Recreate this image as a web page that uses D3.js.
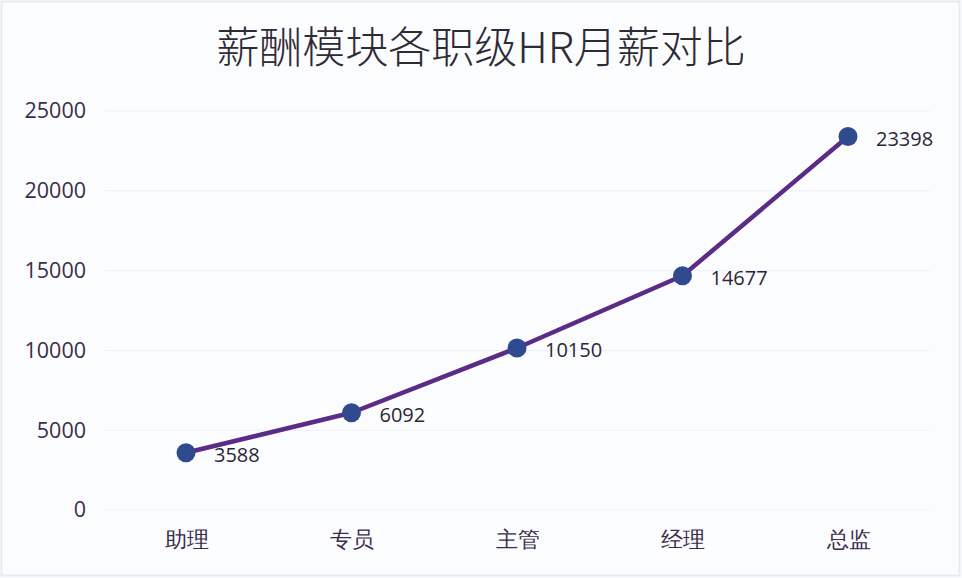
<!DOCTYPE html>
<html>
<head>
<meta charset="utf-8">
<script src="https://cdn.jsdelivr.net/npm/d3@7"></script>
<style>
  html, body { margin: 0; padding: 0; background: #f9fafd; }
  svg { display: block; font-family: "Noto Sans CJK SC", "Noto Sans", sans-serif; }
</style>
</head>
<body>
<svg width="962" height="578"></svg>
<script>
const title = "薪酬模块各职级HR月薪对比";
const levels = ["助理", "专员", "主管", "经理", "总监"];
const salaries = [3588, 6092, 10150, 14677, 23398];
const yTicks = [0, 5000, 10000, 15000, 20000, 25000];

const svg = d3.select("svg");

// faint frame round the picture
svg.append("rect")
    .attr("x", 1.5).attr("y", 1.5)
    .attr("width", 958).attr("height", 574)
    .attr("fill", "#fbfcfe")
    .attr("stroke", "#e6ebf2")
    .attr("stroke-width", 2);

const x = d3.scalePoint()
    .domain(levels)
    .range([186, 848]);

const y = d3.scaleLinear()
    .domain([0, 25000])
    .range([510, 111]);

svg.append("text")
    .attr("x", 481)
    .attr("y", 63)
    .attr("text-anchor", "middle")
    .attr("font-size", 43)
    .attr("font-weight", 300)
    .attr("fill", "#2e2a36")
    .text(title);

// gridlines
svg.append("g")
    .selectAll("line")
    .data(yTicks)
    .enter()
    .append("line")
    .attr("x1", 105)
    .attr("x2", 930)
    .attr("y1", d => y(d))
    .attr("y2", d => y(d))
    .attr("stroke", "#eef0f6")
    .attr("stroke-width", 1);

// y axis labels
const yAxis = svg.append("g")
    .attr("transform", "translate(86,0)")
    .call(d3.axisLeft(y).tickValues(yTicks).tickSize(0).tickPadding(0).tickFormat(d3.format("d")));
yAxis.select(".domain").remove();
yAxis.selectAll("text")
    .attr("font-size", 21.5)
    .attr("fill", "#3b2c4c")
    .attr("font-family", "\"Open Sans\", \"Noto Sans\", sans-serif");

// x axis labels
const xAxis = svg.append("g")
    .attr("transform", "translate(0,531)")
    .call(d3.axisBottom(x).tickSize(0).tickPadding(0));
xAxis.select(".domain").remove();
xAxis.selectAll("text")
    .attr("font-size", 22)
    .attr("fill", "#3b2c4c");

const points = levels.map((d, i) => ({ level: d, value: salaries[i] }));

const line = d3.line()
    .x(d => x(d.level))
    .y(d => y(d.value));

svg.append("path")
    .datum(points)
    .attr("d", line)
    .attr("fill", "none")
    .attr("stroke", "#5b2b86")
    .attr("stroke-width", 4.5)
    .attr("stroke-linejoin", "round");

svg.selectAll("circle.pt")
    .data(points)
    .enter()
    .append("circle")
    .attr("class", "pt")
    .attr("cx", d => x(d.level))
    .attr("cy", d => y(d.value))
    .attr("r", 9.5)
    .attr("fill", "#2f4a8e");

svg.selectAll("text.val")
    .data(points)
    .enter()
    .append("text")
    .attr("class", "val")
    .attr("x", d => x(d.level) + 28)
    .attr("y", d => y(d.value) + 9)
    .attr("font-size", 20)
    .attr("fill", "#2c2636")
    .attr("font-family", "\"Open Sans\", \"Noto Sans\", sans-serif")
    .text(d => d.value);
</script>
</body>
</html>
